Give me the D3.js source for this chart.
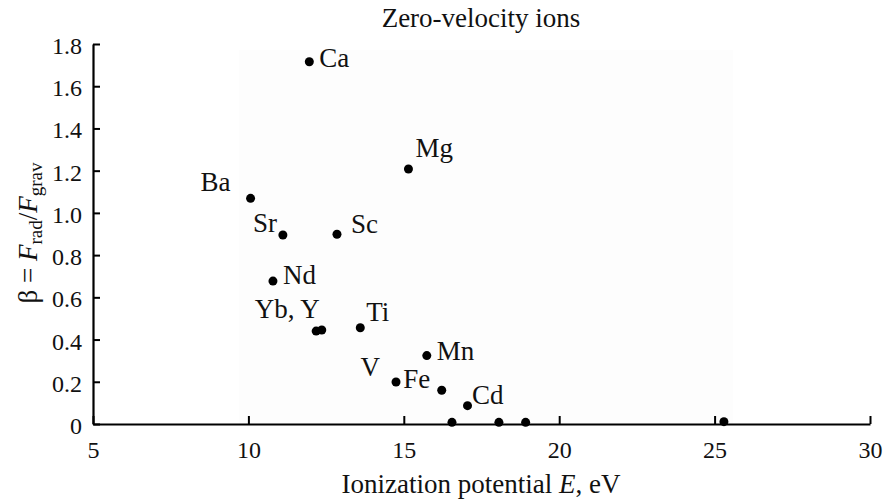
<!DOCTYPE html>
<html>
<head>
<meta charset="utf-8">
<script src="https://cdn.jsdelivr.net/npm/d3@7"></script>
<style>
  html, body { margin: 0; padding: 0; background: #fff; }
  svg { display: block; }
  text { font-family: "Liberation Serif", "Times New Roman", serif; fill: #111; }
</style>
</head>
<body>
<svg id="chart" width="886" height="503"></svg>
<script>
// ---- data ----
const ionNames = ["Ba", "Nd", "Sr", "Ca", "Yb", "Y", "Sc", "Ti", "V", "Mg", "Mn", "Fe", "X1", "Cd", "X2", "X3", "X4"];
const ionEnergy = [10.07, 10.79, 11.11, 11.96, 12.18, 12.36, 12.85, 13.60, 14.75, 15.15, 15.74, 16.22, 16.55, 17.05, 18.06, 18.92, 25.30];
const ionBeta   = [1.069, 0.677, 0.895, 1.716, 0.440, 0.445, 0.899, 0.456, 0.199, 1.208, 0.324, 0.160, 0.008, 0.087, 0.008, 0.008, 0.011];
const labelTexts = ["Ca", "Mg", "Sc", "Sr", "Ba", "Nd", "Yb, Y", "Ti", "Mn", "V", "Fe", "Cd"];
const labelIons  = ["Ca", "Mg", "Sc", "Sr", "Ba", "Nd", "Y", "Ti", "Mn", "V", "Fe", "Cd"];
const xTickValues = [5, 10, 15, 20, 25, 30];
const yTickValues = [0, 0.2, 0.4, 0.6, 0.8, 1.0, 1.2, 1.4, 1.6, 1.8];
const yTickLabels = ["0", "0.2", "0.4", "0.6", "0.8", "1.0", "1.2", "1.4", "1.6", "1.8"];
const titleText = "Zero-velocity ions";

// ---- layout ----
const svg = d3.select("#chart");
const FS = 27;      // text labels
const TFS = 24;     // tick numbers
const x = d3.scaleLinear().domain([5, 30]).range([93, 870]);
const y = d3.scaleLinear().domain([0, 1.8]).range([424, 44]);

// faint background panel
svg.append("rect")
  .attr("x", 239).attr("y", 50).attr("width", 494).attr("height", 374)
  .attr("fill", "#fdfdfd");

// label placement (pixel offsets from the point, anchor)
const labelPlace = {
  "Ca": [10, 5, "start"],
  "Mg": [7, -12, "start"],
  "Sc": [14, -1, "start"],
  "Sr": [-6, -3, "end"],
  "Ba": [-20, -7.5, "end"],
  "Nd": [10, 2.5, "start"],
  "Y":  [-2, -12.5, "end"],
  "Ti": [6, -6.5, "start"],
  "Mn": [10, 4.5, "start"],
  "V":  [-16, -5.5, "end"],
  "Fe": [-11.5, -2, "end"],
  "Cd": [4.5, -1.5, "start"]
};

// x axis
const xAxis = d3.axisBottom(x).tickValues(xTickValues).tickSizeInner(-8).tickSizeOuter(0).tickFormat(d3.format("d"));
const gx = svg.append("g").attr("transform", "translate(0,424)").call(xAxis);
gx.select(".domain").attr("stroke", "#000").attr("stroke-width", 2.2);
gx.selectAll(".tick line").attr("stroke", "#000").attr("stroke-width", 2);
gx.selectAll(".tick text")
  .attr("y", 34).attr("dy", null)
  .style("font-family", "'Liberation Serif', 'Times New Roman', serif")
  .style("font-size", TFS + "px").attr("fill", "#111");

// y axis
const yAxis = d3.axisLeft(y).tickValues(yTickValues).tickSizeInner(-7).tickSizeOuter(0)
  .tickFormat((d, i) => yTickLabels[i]);
const gy = svg.append("g").attr("transform", "translate(93,0)").call(yAxis);
gy.select(".domain").attr("stroke", "#000").attr("stroke-width", 2.2);
gy.selectAll(".tick line").attr("stroke", "#000").attr("stroke-width", 2);
gy.selectAll(".tick text")
  .attr("x", -11).attr("dy", "9.5")
  .style("font-family", "'Liberation Serif', 'Times New Roman', serif")
  .style("font-size", TFS + "px").attr("fill", "#111");

// points
const pts = ionNames.map((n, i) => ({ name: n, e: ionEnergy[i], b: ionBeta[i] }));
svg.append("g").selectAll("circle").data(pts).join("circle")
  .attr("cx", d => x(d.e)).attr("cy", d => y(d.b)).attr("r", 4.5)
  .attr("fill", "#000");

// point labels
const labs = labelTexts.map((t, i) => {
  const p = pts.find(q => q.name === labelIons[i]);
  return { text: t, e: p.e, b: p.b, place: labelPlace[labelIons[i]] };
});
svg.append("g").selectAll("text").data(labs).join("text")
  .attr("x", d => x(d.e) + d.place[0])
  .attr("y", d => y(d.b) + d.place[1])
  .attr("text-anchor", d => d.place[2])
  .style("font-size", FS + "px")
  .text(d => d.text);

// title
svg.append("text").attr("x", 481).attr("y", 27).attr("text-anchor", "middle")
  .style("font-size", FS + "px").text(titleText);

// x axis label
const xl = svg.append("text").attr("x", 481).attr("y", 493).attr("text-anchor", "middle")
  .style("font-size", FS + "px");
xl.append("tspan").text("Ionization potential ");
xl.append("tspan").style("font-style", "italic").text("E");
xl.append("tspan").text(", eV");

// y axis label
const yl = svg.append("text").attr("transform", "translate(37,233) rotate(-90)")
  .attr("text-anchor", "middle").style("font-size", FS + "px");
yl.append("tspan").text("β = ");
yl.append("tspan").style("font-style", "italic").text("F");
yl.append("tspan").attr("dy", 5).style("font-size", "19px").text("rad");
yl.append("tspan").attr("dy", -5).text("/");
yl.append("tspan").style("font-style", "italic").text("F");
yl.append("tspan").attr("dy", 5).style("font-size", "19px").text("grav");
</script>
</body>
</html>
